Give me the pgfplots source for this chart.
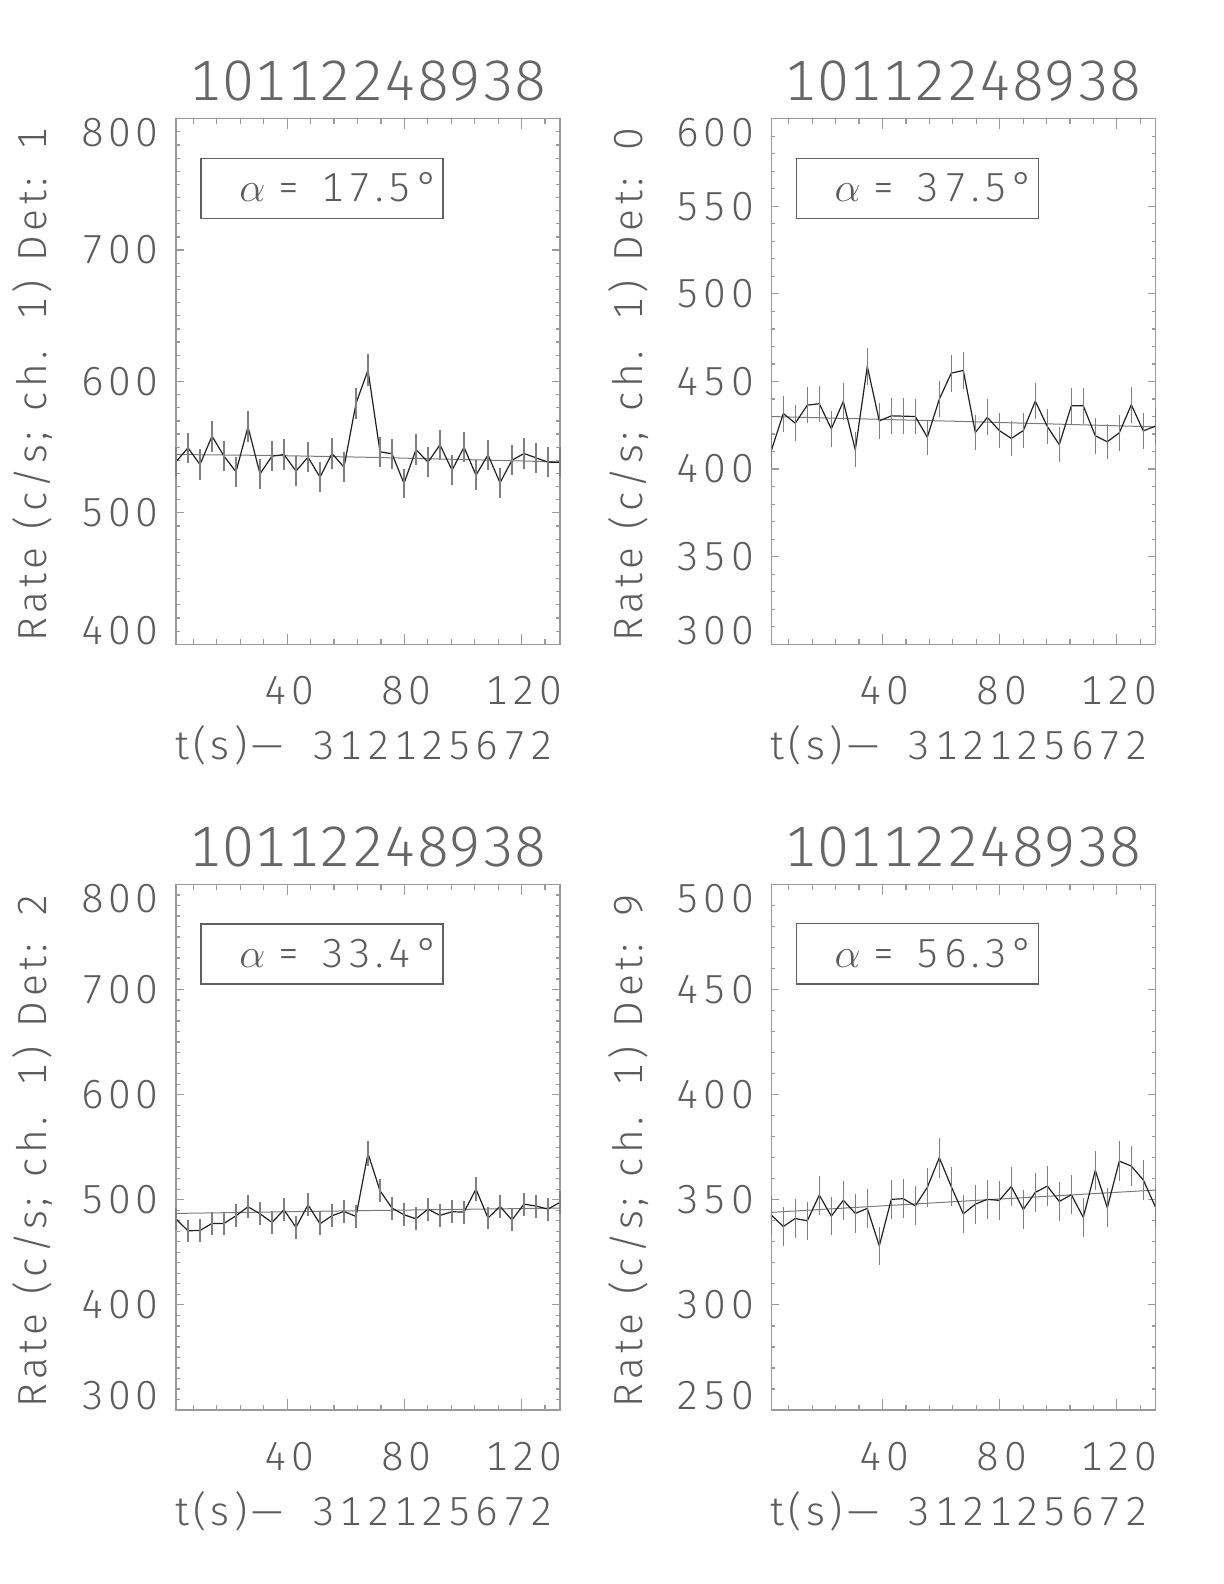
\documentclass[border=0pt]{standalone}
\usepackage{pgfplots}
\pgfplotsset{compat=1.18}
\usepackage{pgfplotstable}
\usepackage{fontspec}
\setmainfont{Fira Sans Light}[Numbers={Lining,Monospaced}]
\newfontfamily\sfont{Fira Sans Light}[Numbers={Lining,Monospaced}, LetterSpace=11]
\newfontfamily\tfont{Fira Sans Light}[Numbers={Lining,Monospaced}, LetterSpace=1]
\definecolor{txt}{HTML}{5C5C5C}
\definecolor{ttxt}{HTML}{666666}
\definecolor{axc}{HTML}{9A9A9A}
\definecolor{dat}{HTML}{202020}
\definecolor{errc}{HTML}{808080}
\definecolor{fitc}{HTML}{7A7A7A}
\definecolor{boxc}{HTML}{606060}
\newcommand{\lab}{\sfont\fontsize{20.3bp}{24bp}\selectfont}
\newcommand{\ttl}{\tfont\fontsize{28.5bp}{32bp}\selectfont}

\pgfplotstableread{
x y e
2.048 538.9 11.47
6.144 549.5 11.58
10.240 536.8 11.45
14.336 558.4 11.68
18.432 543.2 11.52
22.528 531.3 11.39
26.624 565.5 11.75
30.720 529.7 11.37
34.816 543.2 11.52
38.912 544.4 11.53
43.008 531.8 11.39
47.104 542.4 11.51
51.200 527.2 11.35
55.296 545.2 11.54
59.392 534.8 11.43
63.488 583.3 11.93
67.584 608.6 12.19
71.680 546.5 11.55
75.776 545.0 11.53
79.872 522.4 11.29
83.968 548.2 11.57
88.064 538.6 11.47
92.160 551.8 11.61
96.256 532.5 11.40
100.352 550.0 11.59
104.448 528.7 11.36
108.544 544.2 11.53
112.640 522.9 11.30
116.736 540.1 11.48
120.832 545.2 11.54
124.928 541.9 11.50
129.024 538.6 11.47
133.120 538.6 11.47
}\dataA
\pgfplotstableread{
x f
2.048 544.4
35.0 543.7
68.0 542.3
100.0 540.6
133.12 538.8
}\fitA

\pgfplotstableread{
x y e
2.048 410.6 10.01
6.144 431.7 10.27
10.240 426.2 10.20
14.336 436.5 10.32
18.432 437.3 10.33
22.528 423.0 10.16
26.624 438.6 10.35
30.720 411.0 10.02
34.816 458.6 10.58
38.912 427.5 10.22
43.008 430.4 10.25
47.104 430.2 10.25
51.200 430.0 10.25
55.296 418.2 10.10
59.392 439.9 10.36
63.488 454.8 10.54
67.584 456.3 10.55
71.680 420.9 10.14
75.776 429.5 10.24
79.872 422.0 10.15
83.968 417.5 10.10
88.064 422.0 10.15
92.160 438.8 10.35
96.256 424.3 10.18
100.352 414.0 10.05
104.448 436.1 10.32
108.544 436.1 10.32
112.640 419.0 10.11
116.736 415.6 10.07
120.832 420.7 10.13
124.928 436.7 10.33
129.024 421.8 10.15
133.120 424.5 10.18
}\dataB
\pgfplotstableread{
x f
2.048 430.0
67.0 427.2
133.12 424.1
}\fitB

\pgfplotstableread{
x y e
2.048 481.6 10.84
6.144 470.5 10.72
10.240 470.8 10.72
14.336 477.5 10.80
18.432 477.5 10.80
22.528 484.8 10.88
26.624 493.3 10.97
30.720 486.7 10.90
34.816 478.4 10.81
38.912 490.5 10.94
43.008 473.7 10.75
47.104 495.2 11.00
51.200 477.2 10.79
55.296 484.8 10.88
59.392 488.9 10.93
63.488 484.1 10.87
67.584 544.1 11.53
71.680 508.6 11.14
75.776 492.1 10.96
79.872 485.7 10.89
83.968 481.9 10.85
88.064 491.1 10.95
92.160 485.1 10.88
96.256 488.6 10.92
100.352 488.3 10.92
104.448 510.1 11.16
108.544 482.6 10.85
112.640 493.7 10.98
116.736 480.7 10.83
120.832 495.9 11.00
124.928 494.0 10.98
129.024 491.1 10.95
133.120 497.5 11.02
}\dataC
\pgfplotstableread{
x f
2.048 487.0
67.0 489.7
133.12 492.1
}\fitC

\pgfplotstableread{
x y e
2.048 342.7 9.15
6.144 337.3 9.07
10.240 341.1 9.13
14.336 340.0 9.11
18.432 352.2 9.27
22.528 342.2 9.14
26.624 349.8 9.24
30.720 343.5 9.16
34.816 345.9 9.19
38.912 328.1 8.95
43.008 350.2 9.25
47.104 350.5 9.25
51.200 347.1 9.21
55.296 355.9 9.32
59.392 370.0 9.50
63.488 356.2 9.33
67.584 343.3 9.15
71.680 347.9 9.22
75.776 350.2 9.25
79.872 349.7 9.24
83.968 356.3 9.33
88.064 345.4 9.18
92.160 353.5 9.29
96.256 356.5 9.33
100.352 349.2 9.23
104.448 352.4 9.28
108.544 341.6 9.13
112.640 364.0 9.43
116.736 346.2 9.19
120.832 368.4 9.48
124.928 366.0 9.45
129.024 359.4 9.37
133.120 346.7 9.20
}\dataD
\pgfplotstableread{
x f
2.048 344.0
67.0 349.3
133.12 354.6
}\fitD

\pgfplotsset{
  idl/.style={
    scale only axis, width=192bp, height=262.8bp,
    anchor=south west, clip=false,
    xmin=2.048, xmax=133.12,
    xtick={40,80,120}, xticklabels={40,80,120},
    minor xtick={8,16,24,32,48,56,64,72,88,96,104,112,128},
    axis line style={axc, line width=0.6bp},
    every tick/.style={axc, line width=0.6bp},
    major tick length=3.85bp, minor tick length=1.9bp,
    xtick style={/pgfplots/major tick length=5.25bp, /pgfplots/minor tick length=2.6bp},
    tick align=inside,
    /pgf/number format/assume math mode=true,
    xticklabel style={anchor=north, inner sep=0pt, yshift=-16bp, xshift=1.1bp, font=\lab, text=txt},
    yticklabel style={anchor=east, inner sep=0pt, xshift=-8.5bp, font=\lab, text=txt},
    every axis title shift=0pt,
    title style={at={(0.5,1)}, anchor=base, yshift=9bp, inner sep=0pt, font=\ttl, text=ttxt},
    title=10112248938,
  },
  dline/.style={dat, line width=0.6bp, mark=none,
    error bars/.cd, y dir=both, y explicit, error mark=none,
    error bar style={errc, line width=0.6bp}},
  fline/.style={fitc, line width=0.5bp, mark=none},
}

\newcommand{\decor}[2]{%
  \node[rotate=90, anchor=base, inner sep=0pt, font=\lab, text=txt] at ([xshift=-64.5bp,yshift=-1.75bp]axis description cs:0,0.5) {\makebox[257bp][s]{Rate (c/s; ch. 1) Det: #1}};
  \node[anchor=base, inner sep=0pt, font=\lab, text=txt] at ([xshift=-2bp,yshift=-57.5bp]axis description cs:0.5,0) {\makebox[189bp][s]{t(s)— 312125672}};
  \draw[boxc, line width=0.6bp] ([xshift=12.5bp,yshift=-19.75bp]rel axis cs:0,1) rectangle ([xshift=133.5bp,yshift=-49.75bp]rel axis cs:0,1);
  \node[anchor=base west, inner sep=0pt, font=\lab, text=txt] at ([xshift=31.5bp,yshift=-41.65bp]rel axis cs:0,1) {$\alpha$\hspace{6bp}=};
  \node[anchor=base east, inner sep=0pt, font=\lab, text=txt] at ([xshift=131.6bp,yshift=-41.65bp]rel axis cs:0,1) {#2°};
}

\begin{document}
\begin{tikzpicture}
\useasboundingbox (0,0) rectangle (612bp,792bp);

\begin{axis}[idl, at={(88bp,469.85bp)}, ymin=400, ymax=800,
  ytick={400,500,600,700,800}, minor y tick num=9,
  yticklabels={{\raisebox{0.5\height}[\height][\depth]{400}},500,600,700,{\raisebox{-0.5\height}[\height][\depth]{800}}}]
\addplot[fline] table[x=x,y=f]{\fitA};
\addplot[dline] table[x=x,y=y,y error=e]{\dataA};
\decor{1}{17.5}
\end{axis}

\begin{axis}[idl, at={(385.65bp,469.85bp)}, ymin=300, ymax=600,
  ytick={300,350,400,450,500,550,600}, minor y tick num=4,
  yticklabels={{\raisebox{0.5\height}[\height][\depth]{300}},350,400,450,500,550,{\raisebox{-0.5\height}[\height][\depth]{600}}}]
\addplot[fline] table[x=x,y=f]{\fitB};
\addplot[dline] table[x=x,y=y,y error=e]{\dataB};
\decor{0}{37.5}
\end{axis}

\begin{axis}[idl, at={(88bp,87bp)}, ymin=300, ymax=800,
  ytick={300,400,500,600,700,800}, minor y tick num=9,
  yticklabels={{\raisebox{0.5\height}[\height][\depth]{300}},400,500,600,700,{\raisebox{-0.5\height}[\height][\depth]{800}}}]
\addplot[fline] table[x=x,y=f]{\fitC};
\addplot[dline] table[x=x,y=y,y error=e]{\dataC};
\decor{2}{33.4}
\end{axis}

\begin{axis}[idl, at={(385.65bp,87bp)}, ymin=250, ymax=500,
  ytick={250,300,350,400,450,500}, minor y tick num=4,
  yticklabels={{\raisebox{0.5\height}[\height][\depth]{250}},300,350,400,450,{\raisebox{-0.5\height}[\height][\depth]{500}}}]
\addplot[fline] table[x=x,y=f]{\fitD};
\addplot[dline] table[x=x,y=y,y error=e]{\dataD};
\decor{9}{56.3}
\end{axis}

\end{tikzpicture}
\end{document}
